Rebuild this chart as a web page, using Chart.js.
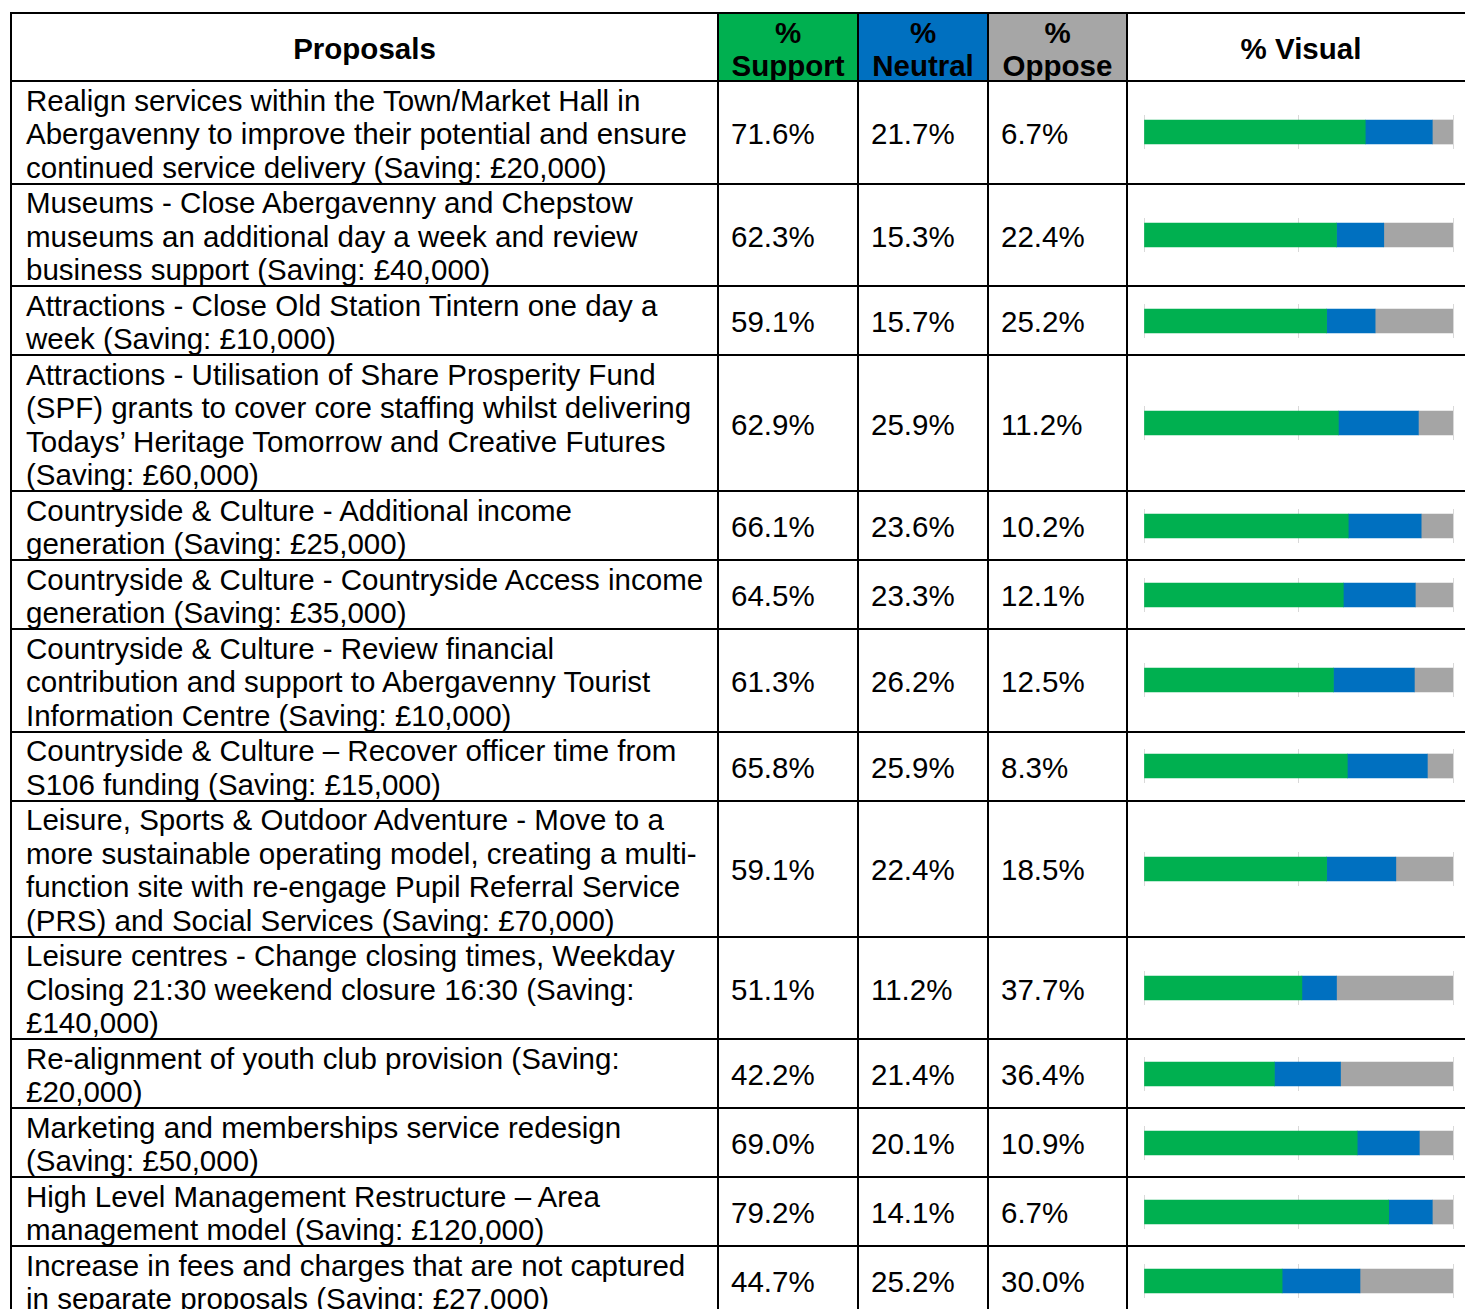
<!DOCTYPE html>
<html>
<head>
<meta charset="utf-8">
<script src="https://cdn.jsdelivr.net/npm/chart.js@4"></script>
<style>
  html, body { margin: 0; padding: 0; background: #fff; overflow: hidden; }
  body { width: 1465px; height: 1309px; position: relative; }
  #tbl {
    position: absolute; left: 10px; top: 12px;
    border-collapse: collapse; table-layout: fixed; width: 1464px;
    font-family: "Liberation Sans", Arial, sans-serif; color: #000;
  }
  #tbl th, #tbl td {
    border: 2px solid #000; padding: 0 12px; font-size: 29.5px;
    line-height: 33.5px; vertical-align: middle; text-align: left;
  }
  #tbl th { font-weight: bold; text-align: center; line-height: 33px; }
  #tbl td.prop { white-space: pre; padding-left: 14px; }
  #tbl td.vis { padding: 0; }
  .nudge { position: relative; top: 1.5px; }
  .bar-wrap { position: relative; width: 311px; height: 34px; margin-left: 15px; }
</style>
</head>
<body>
<table id="tbl">
  <colgroup>
    <col style="width:707px">
    <col style="width:140px">
    <col style="width:130px">
    <col style="width:139px">
    <col style="width:348px">
  </colgroup>
  <thead>
    <tr>
      <th><span class="nudge">Proposals</span></th>
      <th style="background:#00B050"><span class="nudge">%<br>Support</span></th>
      <th style="background:#0070C0"><span class="nudge">%<br>Neutral</span></th>
      <th style="background:#A6A6A6"><span class="nudge">%<br>Oppose</span></th>
      <th><span class="nudge">% Visual</span></th>
    </tr>
  </thead>
  <tbody id="tableBody"></tbody>
</table>

<script>
// Proposals (line breaks as in the original table)
const proposals = [
  "Realign services within the Town/Market Hall in\nAbergavenny to improve their potential and ensure\ncontinued service delivery (Saving: £20,000)",
  "Museums - Close Abergavenny and Chepstow\nmuseums an additional day a week and review\nbusiness support (Saving: £40,000)",
  "Attractions - Close Old Station Tintern one day a\nweek (Saving: £10,000)",
  "Attractions - Utilisation of Share Prosperity Fund\n(SPF) grants to cover core staffing whilst delivering\nTodays’ Heritage Tomorrow and Creative Futures\n(Saving: £60,000)",
  "Countryside & Culture - Additional income\ngeneration (Saving: £25,000)",
  "Countryside & Culture - Countryside Access income\ngeneration (Saving: £35,000)",
  "Countryside & Culture - Review financial\ncontribution and support to Abergavenny Tourist\nInformation Centre (Saving: £10,000)",
  "Countryside & Culture – Recover officer time from\nS106 funding (Saving: £15,000)",
  "Leisure, Sports & Outdoor Adventure - Move to a\nmore sustainable operating model, creating a multi-\nfunction site with re-engage Pupil Referral Service\n(PRS) and Social Services (Saving: £70,000)",
  "Leisure centres - Change closing times, Weekday\nClosing 21:30 weekend closure 16:30 (Saving:\n£140,000)",
  "Re-alignment of youth club provision (Saving:\n£20,000)",
  "Marketing and memberships service redesign\n(Saving: £50,000)",
  "High Level Management Restructure – Area\nmanagement model (Saving: £120,000)",
  "Increase in fees and charges that are not captured\nin separate proposals (Saving: £27,000)"
];

const support = [71.6, 62.3, 59.1, 62.9, 66.1, 64.5, 61.3, 65.8, 59.1, 51.1, 42.2, 69.0, 79.2, 44.7];
const neutral = [21.7, 15.3, 15.7, 25.9, 23.6, 23.3, 26.2, 25.9, 22.4, 11.2, 21.4, 20.1, 14.1, 25.2];
const oppose  = [6.7, 22.4, 25.2, 11.2, 10.2, 12.1, 12.5, 8.3, 18.5, 37.7, 36.4, 10.9, 6.7, 30.0];

const seriesNames = ["% Support", "% Neutral", "% Oppose"];
const colours = ["#00B050", "#0070C0", "#A5A5A5"];
const axisTicks = [0, 50, 100];

const tableBody = document.getElementById("tableBody");
const fmt = v => v.toFixed(1) + "%";

function addCell(tr, text, cls) {
  const td = document.createElement("td");
  if (cls) td.className = cls;
  const span = document.createElement("span");
  span.className = "nudge";
  span.textContent = text;
  td.appendChild(span);
  tr.appendChild(td);
  return td;
}

proposals.forEach((text, i) => {
  const tr = document.createElement("tr");

  addCell(tr, text, "prop");
  [support[i], neutral[i], oppose[i]].forEach(v => addCell(tr, fmt(v)));

  const tdVis = document.createElement("td");
  tdVis.className = "vis";
  const wrap = document.createElement("div");
  wrap.className = "bar-wrap";
  const canvas = document.createElement("canvas");
  wrap.appendChild(canvas);
  tdVis.appendChild(wrap);
  tr.appendChild(tdVis);

  tableBody.appendChild(tr);

  const values = [support[i], neutral[i], oppose[i]];

  new Chart(canvas.getContext("2d"), {
    type: "bar",
    data: {
      labels: [""],
      datasets: values.map((v, k) => ({
        label: seriesNames[k],
        data: [v],
        backgroundColor: colours[k],
        borderWidth: 0,
        barThickness: 24
      }))
    },
    options: {
      indexAxis: "y",
      responsive: true,
      maintainAspectRatio: false,
      animation: false,
      layout: { padding: { left: 1, right: 1, top: 0, bottom: 0 } },
      plugins: { legend: { display: false }, tooltip: { enabled: false } },
      scales: {
        x: {
          stacked: true,
          min: axisTicks[0],
          max: axisTicks[axisTicks.length - 1],
          afterBuildTicks: s => { s.ticks = axisTicks.map(v => ({ value: v })); },
          afterFit: s => { s.height = 0; },
          ticks: { display: false },
          grid: { color: "#D9D9D9", lineWidth: 1, drawTicks: false },
          border: { display: false }
        },
        y: {
          stacked: true,
          display: false
        }
      }
    }
  });
});
</script>
</body>
</html>
